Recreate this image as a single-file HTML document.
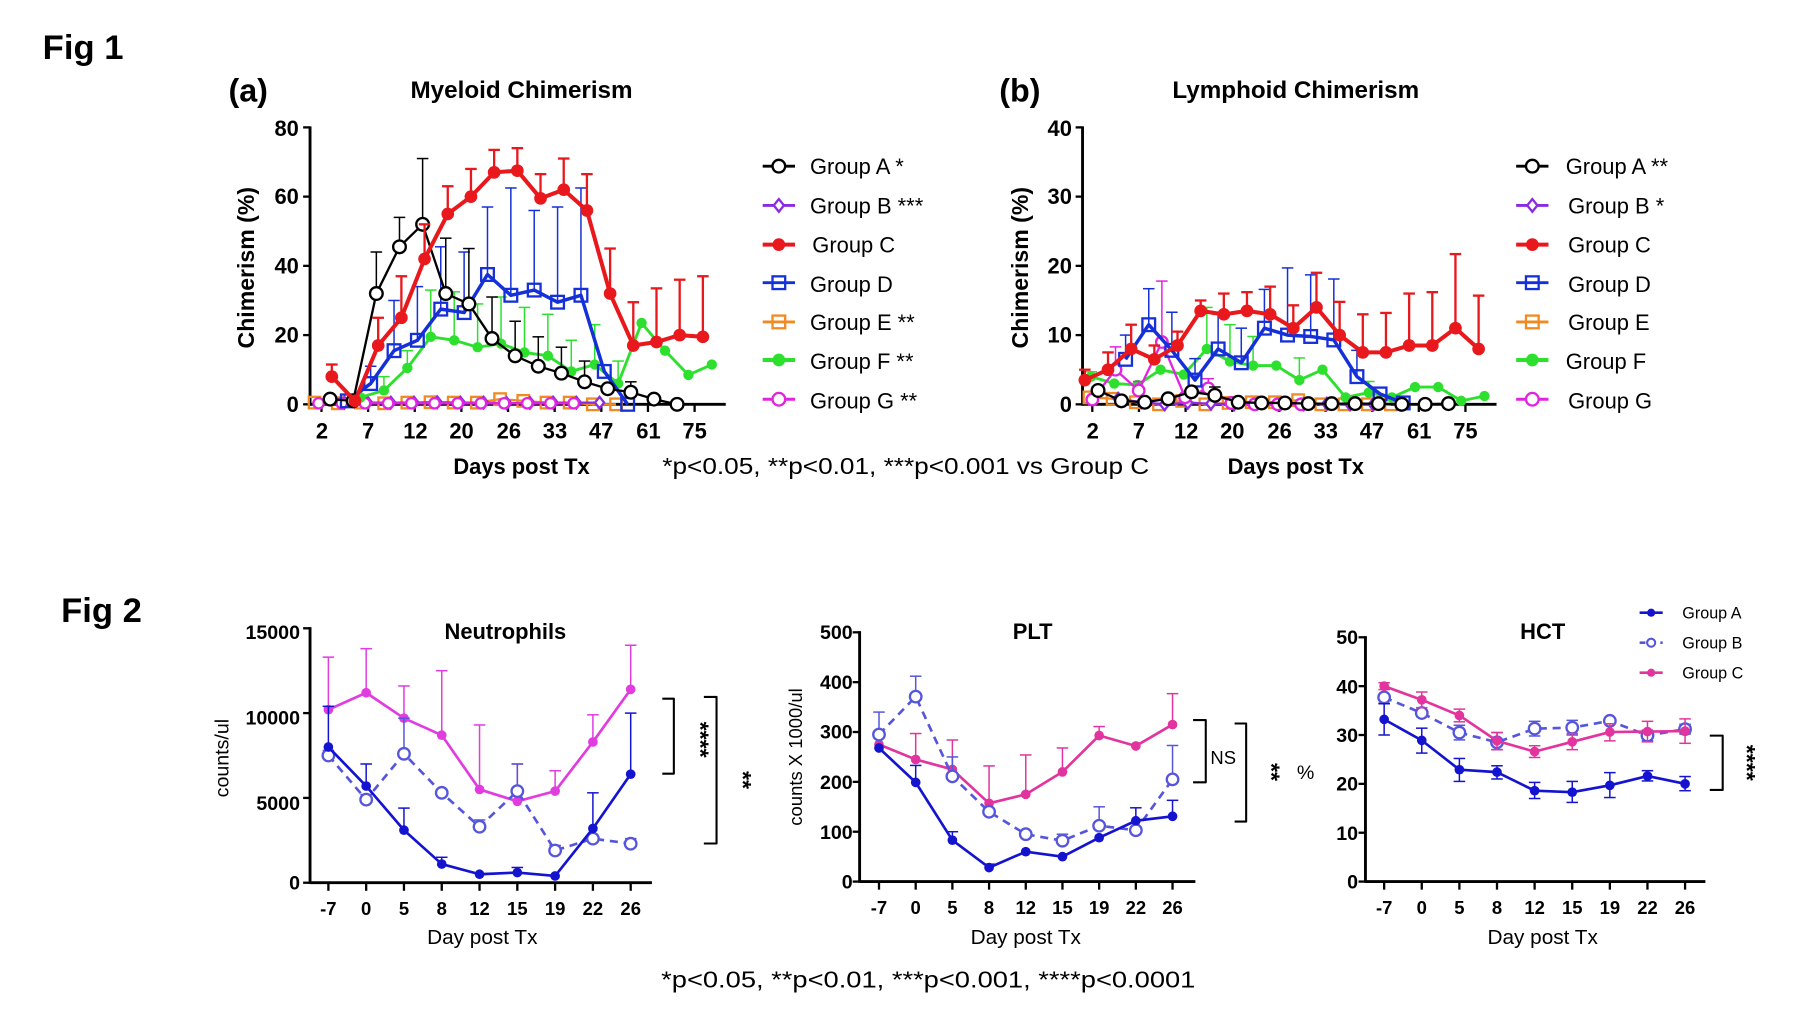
<!DOCTYPE html>
<html><head><meta charset="utf-8"><style>
html,body{margin:0;padding:0;background:#fff;}
svg{display:block;font-family:"Liberation Sans",Arial,sans-serif;}
.b{font-weight:bold;}
</style></head><body>
<svg id="s" width="1800" height="1010" viewBox="0 0 1560 875.3" preserveAspectRatio="none" xmlns="http://www.w3.org/2000/svg">
<rect width="1560" height="876" fill="#fff"/>
<text x="37" y="51" class="b" font-size="30">Fig 1</text>
<text x="53" y="539" class="b" font-size="30">Fig 2</text>
<text x="198" y="88" class="b" font-size="28">(a)</text>
<text x="866" y="88" class="b" font-size="28">(b)</text>
<text x="452" y="85" class="b" font-size="21" text-anchor="middle">Myeloid Chimerism</text>
<text x="1123" y="85" class="b" font-size="21" text-anchor="middle">Lymphoid Chimerism</text>
<text transform="translate(220,232) rotate(-90)" class="b" font-size="20" text-anchor="middle">Chimerism (%)</text>
<text transform="translate(891,232) rotate(-90)" class="b" font-size="20" text-anchor="middle">Chimerism (%)</text>
<text x="452" y="411" class="b" font-size="19" text-anchor="middle">Days post Tx</text>
<text x="1123" y="411" class="b" font-size="19" text-anchor="middle">Days post Tx</text>
<text x="574" y="411" font-size="20" textLength="422" lengthAdjust="spacingAndGlyphs">*p&lt;0.05, **p&lt;0.01, ***p&lt;0.001 vs Group C</text>
<g class="b" font-size="19" text-anchor="end">
<text x="259" y="357">0</text><text x="259" y="297">20</text><text x="259" y="237">40</text><text x="259" y="177">60</text><text x="259" y="118">80</text>
<text x="929" y="357">0</text><text x="929" y="297">10</text><text x="929" y="237">20</text><text x="929" y="177">30</text><text x="929" y="118">40</text>
</g>
<g class="b" font-size="19" text-anchor="middle">
<text x="279" y="380">2</text><text x="319" y="380">7</text><text x="360" y="380">12</text><text x="400" y="380">20</text><text x="441" y="380">26</text><text x="481" y="380">33</text><text x="521" y="380">47</text><text x="562" y="380">61</text><text x="602" y="380">75</text>
<text x="947" y="380">2</text><text x="987" y="380">7</text><text x="1028" y="380">12</text><text x="1068" y="380">20</text><text x="1109" y="380">26</text><text x="1149" y="380">33</text><text x="1189" y="380">47</text><text x="1230" y="380">61</text><text x="1270" y="380">75</text>
</g>
<g font-size="19">
<text x="702" y="151">Group A *</text><text x="702" y="185">Group B ***</text><text x="704" y="219">Group C</text><text x="702" y="253">Group D</text><text x="702" y="286">Group E **</text><text x="702" y="320">Group F **</text><text x="702" y="354">Group G **</text>
<text x="1357" y="151">Group A **</text><text x="1359" y="185">Group B *</text><text x="1359" y="219">Group C</text><text x="1359" y="253">Group D</text><text x="1359" y="286">Group E</text><text x="1357" y="320">Group F</text><text x="1359" y="354">Group G</text>
</g>
<text x="438" y="554" class="b" font-size="19" text-anchor="middle">Neutrophils</text>
<text x="895" y="554" class="b" font-size="19" text-anchor="middle">PLT</text>
<text x="1337" y="554" class="b" font-size="19" text-anchor="middle">HCT</text>
<text transform="translate(198,657) rotate(-90)" font-size="17" text-anchor="middle">counts/ul</text>
<text transform="translate(695,656) rotate(-90)" font-size="16" text-anchor="middle">counts X 1000/ul</text>
<text x="1124" y="675" font-size="17">%</text>
<text x="418" y="818" font-size="18" text-anchor="middle">Day post Tx</text>
<text x="889" y="818" font-size="18" text-anchor="middle">Day post Tx</text>
<text x="1337" y="818" font-size="18" text-anchor="middle">Day post Tx</text>
<g class="b" font-size="17" text-anchor="end">
<text x="260" y="771">0</text><text x="260" y="702">5000</text><text x="260" y="628">10000</text><text x="260" y="554">15000</text>
<text x="739" y="770">0</text><text x="739" y="727">100</text><text x="739" y="684">200</text><text x="739" y="640">300</text><text x="739" y="597">400</text><text x="739" y="554">500</text>
<text x="1177" y="770">0</text><text x="1177" y="728">10</text><text x="1177" y="685">20</text><text x="1177" y="643">30</text><text x="1177" y="601">40</text><text x="1177" y="558">50</text>
</g>
<g id="xt" class="b" font-size="16" text-anchor="middle"></g>
<text x="600" y="641" class="b" font-size="20" text-anchor="middle" transform="rotate(90,600,641)">****</text>
<text x="637" y="676" class="b" font-size="20" text-anchor="middle" transform="rotate(90,637,676)">**</text>
<text x="1049" y="662" font-size="16">NS</text>
<text x="1095" y="669" class="b" font-size="20" text-anchor="middle" transform="rotate(90,1095,669)">**</text>
<text x="1507" y="661" class="b" font-size="20" text-anchor="middle" transform="rotate(90,1507,661)">****</text>
<g font-size="14"><text x="1458" y="536">Group A</text><text x="1458" y="562">Group B</text><text x="1458" y="588">Group C</text></g>
<text x="573" y="856" font-size="20" textLength="463" lengthAdjust="spacingAndGlyphs">*p&lt;0.05, **p&lt;0.01, ***p&lt;0.001, ****p&lt;0.0001</text>
<g id="g"></g>
</svg>
<script>
const NS="http://www.w3.org/2000/svg",G=document.getElementById('g');
function el(t,a,p){const e=document.createElementNS(NS,t);for(const k in a)e.setAttribute(k,a[k]);(p||G).appendChild(e);return e;}
function line(x1,y1,x2,y2,c,w,d){el('line',{x1,y1,x2,y2,stroke:c,'stroke-width':w||2,'stroke-dasharray':d||'none'});}
function pl(pts,c,w,d){el('polyline',{points:pts.map(p=>p.join(',')).join(' '),fill:'none',stroke:c,'stroke-width':w,'stroke-dasharray':d||'none','stroke-linejoin':'round'});}
function mk(t,x,y,c,r,sw){sw=sw||2;
 if(t=='oc')el('circle',{cx:x,cy:y,r,fill:'#fff',stroke:c,'stroke-width':sw});
 else if(t=='fc')el('circle',{cx:x,cy:y,r,fill:c});
 else if(t=='sq')el('rect',{x:x-r,y:y-r,width:2*r,height:2*r,fill:'none',stroke:c,'stroke-width':sw});
 else if(t=='di')el('polygon',{points:`${x},${y-r} ${x+r*0.8},${y} ${x},${y+r} ${x-r*0.8},${y}`,fill:'#fff',stroke:c,'stroke-width':sw});}
function eb(x,y1,y2,c,w,cw){line(x,y1,x,y2,c,w);line(x-cw,y2,x+cw,y2,c,w);}
function series(o){const pts=o.v.map((v,k)=>[o.X(o.z0+o.st*k),o.Y(v)]);
 if(o.e)o.e.forEach((e,k)=>{if(e!=null){eb(pts[k][0],pts[k][1],o.Y(e),o.c,o.ew||1.3,5);}});
 if(o.lo)o.lo.forEach((e,k)=>{if(e!=null){eb(pts[k][0],pts[k][1],o.Y(e),o.c,o.ew||1.3,5);}});
 pl(pts,o.c,o.w,o.d);pts.forEach(p=>mk(o.t,p[0],p[1],o.c,o.r,o.sw));}
const K='#000',R='#e8181c',B='#1530d8',GR='#2ee02e',O='#f08a24',P='#8a2be2',M='#e024e0';
function ax1(xa,xe,zt,X){line(xa,350.4,xe,350.4,K,2.5);line(xa,109.5,xa,351.6,K,2.5);
 for(let i=0;i<5;i++){line(xa-6,350.4-60*i,xa,350.4-60*i,K,2);} for(let i=0;i<9;i++){const x=X(zt+81.25*i);line(x,350,x,357,K,2);} }
const MX=z=>z/2.01, LX=z=>780+z/2.01, MY=v=>350.4-3*v, LY=v=>350.4-6*v;
ax1(268.7,629,560,MX); ax1(938.2,1297,335,LX);
series({X:MX,Y:MY,z0:548,st:40.4,v:[0.5,0.3,0.5,0.3,0.5,0.6,0.5,0.5,1.5,1,0.5,0.5,0,0],c:O,t:'sq',w:2,r:5});
series({X:MX,Y:MY,z0:600,st:40.4,v:[0.5,0.5,0.5,0.5,0.6,0.5,0.5,0.3,0.4,0.5,0.5,0.5],c:P,t:'di',w:2,r:5});
series({X:MX,Y:MY,z0:555,st:40.4,v:[0.3,0.3,0.3,0.3,0.3,0.3,0.3,0.3,0.3,0.3,0.3,0.3],c:M,t:'oc',w:2,r:4.5});
series({X:MX,Y:MY,z0:628,st:40.8,v:[2,4,10.5,19.5,18.5,16.5,17.5,15,14,9.5,11.5,6,23.5,15.5,8.5,11.5],e:[null,8,15.5,33,32.5,29,31,28,26,18.5,23,12.5],c:GR,t:'fc',w:2.5,r:4.5});
series({X:MX,Y:MY,z0:605,st:40.7,v:[1,6,15.5,18.5,27.5,26.5,37.5,31.5,33,29.5,31.5,9.5,0],e:[null,11,30,34,45.5,44,57,62.5,56,57,62.5,null,null],c:B,t:'sq',w:3,r:5.5});
series({X:MX,Y:MY,z0:575,st:40.3,v:[1.5,1,32,45.5,52,32,29,19,14,11,9,6.5,4.5,3.5,1.5,0],e:[null,null,44,54,71,48,45,31,24,19.5,16.5,12.5,null,6.5],c:K,t:'oc',w:2,r:5.5});
series({X:MX,Y:MY,z0:578,st:40.4,v:[8,1,17,25,42,55,60,67,67.5,59.5,62,56,32,17,18,20,19.5],e:[11.5,null,25,37,52,63,68,73.5,74,66.5,71,66.5,45,29.5,33.5,36,37],c:R,t:'fc',w:3.5,r:5.5,ew:2});
series({X:LX,Y:LY,z0:330,st:40.4,v:[1,0.8,0.3,0,0.5,0,0.2,0.3,0.3,0.6,0,0,0,0],c:O,t:'sq',w:2,r:5});
series({X:LX,Y:LY,z0:380,st:40.4,v:[0.8,0.3,0,0.2,0.1,0,0.1,0,0,0.1,0,0],c:P,t:'di',w:2,r:5});
series({X:LX,Y:LY,z0:333,st:40.3,v:[4,3,2.8,5,4.3,8,6.2,5.6,5.6,3.5,5,1,1.7,1,2.5,2.5,0.5,1.2],e:[4.7,null,null,null,null,14,11.5,9.8,null,6.7,null,null,3.3],c:GR,t:'fc',w:2.5,r:4.5});
series({X:LX,Y:LY,z0:335,st:40.4,v:[0.7,5,2,9,1,2.3,0.2,0,0,0],e:[null,8.3,3.3,17.8,null,3.7],c:M,t:'oc',w:2,r:5});
series({X:LX,Y:LY,z0:393,st:40.3,v:[6.5,11.5,7.8,3.5,8,6,11,10,9.8,9.3,4,1.5,0.2],e:[10,16.7,13.3,6.6,13,11,16.6,19.7,18.7,18.1,7.8,null,null],c:B,t:'sq',w:3,r:5.5});
series({X:LX,Y:LY,z0:345,st:40.7,v:[2,0.5,0.3,0.8,1.8,1.3,0.3,0.2,0.2,0.1,0.1,0.1,0.1,0,0,0.1],e:[null,null,null,null,null,2.5],c:K,t:'oc',w:2,r:5.5});
series({X:LX,Y:LY,z0:322,st:40.35,v:[3.5,5,8,6.5,8.5,13.5,13,13.5,13,11,14,10,7.5,7.5,8.5,8.5,11,8],e:[5,7.5,11.5,8.5,10.5,15,16,16.2,17,14.3,19,14.8,13,13.2,16,16.2,21.7,15.7],c:R,t:'fc',w:3.5,r:5.5,ew:2});
const leg=[[K,'oc'],[P,'di'],[R,'fc'],[B,'sq'],[O,'sq'],[GR,'fc'],[M,'oc']],ly=[144,178,212,245,279,312,346];
leg.forEach((l,i)=>{[[661,689],[1314,1342]].forEach(([a,b])=>{line(a,ly[i],b,ly[i],l[0],l[1]=='fc'?3.5:2.5);mk(l[1],(a+b)/2,ly[i],l[0],5.5,2);});});
const A2='#1414d0',B2='#5656dc',C1='#e03ce0',C2='#e2349e';
const XT=document.getElementById('xt'),labs=['-7','0','5','8','12','15','19','22','26'];
function ax2(xa,x0,st,xe,yb,yt,nt){line(xa,yb,xe,yb,K,2.5);line(xa,yt-1,xa,yb+1,K,2.5);
 for(let i=0;i<nt;i++){const y=yb-(yb-yt)*i/(nt-1);line(xa-6,y,xa,y,K,2);}
 labs.forEach((l,i)=>{const x=x0+st*i;line(x,yb,x,yb+7,K,2);el('text',{x,y:yb+28},XT).textContent=l;});}
ax2(268.7,284.6,32.75,565,765,544.5,4); ax2(745,761.8,31.8,1036,764,548,6); ax2(1183.4,1199.6,32.6,1478,764,552.3,6);
function s2(x0,st,Y,v,e,lo,c,t,d){series({X:z=>z,Y,z0:x0,st,v,e,lo,c,t,w:2.3,r:t=='oc'?5:4.2,d,ew:1.3,sw:2});}
const NY=v=>765-v*220.5/15000;
s2(284.6,32.75,NY,[10200,11200,9700,8700,5500,4800,5400,8300,11400],[13300,13800,11600,12500,9300,7000,6600,9900,14000],null,C1,'fc');
s2(284.6,32.75,NY,[7500,4900,7600,5300,3300,5400,1900,2600,2300],[7800,5200,9700,5500,3700,7000,2200,2800,2600],null,B2,'oc','7,5');
s2(284.6,32.75,NY,[8000,5700,3100,1100,500,600,400,3200,6400],[10400,7000,4400,1500,null,900,null,5300,10000],null,A2,'fc');
const PY=v=>764-v*216/500;
s2(761.8,31.8,PY,[275,245,225,157,175,220,293,272,315],[null,297,284,232,254,268,311,null,377],null,C2,'fc');
s2(761.8,31.8,PY,[295,371,211,140,95,82,112,103,205],[340,412,250,null,null,95,150,null,273],null,B2,'oc','7,5');
s2(761.8,31.8,PY,[268,199,83,28,60,50,88,122,131],[null,233,100,35,null,null,null,148,163],null,A2,'fc');
const HY=v=>764-v*(764-552.3)/50;
s2(1199.6,32.6,HY,[37.7,34.5,30.5,28.5,31.3,31.5,32.9,29.9,31.2],[38.2,35,32,30.5,32.8,33,33.3,31,32.2],[36.5,33.8,29,27,29.8,30,32.5,28.8,30.2],B2,'oc','7,5');
s2(1199.6,32.6,HY,[40,37.2,34,28.8,26.6,28.6,30.6,30.7,30.8],[40.7,38.8,35.3,30.5,27.8,30.3,32.3,32.8,33.3],[39.3,35.6,32.7,27,25.4,27,28.8,28.6,28.3],C2,'fc');
s2(1199.6,32.6,HY,[33.2,28.9,22.9,22.4,18.6,18.3,19.7,21.6,20],[36.4,31.4,25.2,23.7,20.3,20.5,22.3,22.7,21.5],[30,26.3,20.5,21,17,16.2,17.2,20.6,18.6],A2,'fc');
function br(x1,x2,y1,y2){pl([[x1,y1],[x2,y1],[x2,y2],[x1,y2]],K,1.8);}
br(574,584,605.5,670.5);br(610,621,604,731);br(1034,1045,624,678);br(1070,1080,627,712);br(1481.8,1493,637.5,684.6);
[[A2,'fc',531,null],[B2,'oc',557,'5,4'],[C2,'fc',583,null]].forEach(([c,t,y,d])=>{line(1421,y,1441,y,c,2.3,d);mk(t,1431,y,c,3.5,1.8);});
</script>
</body></html>
